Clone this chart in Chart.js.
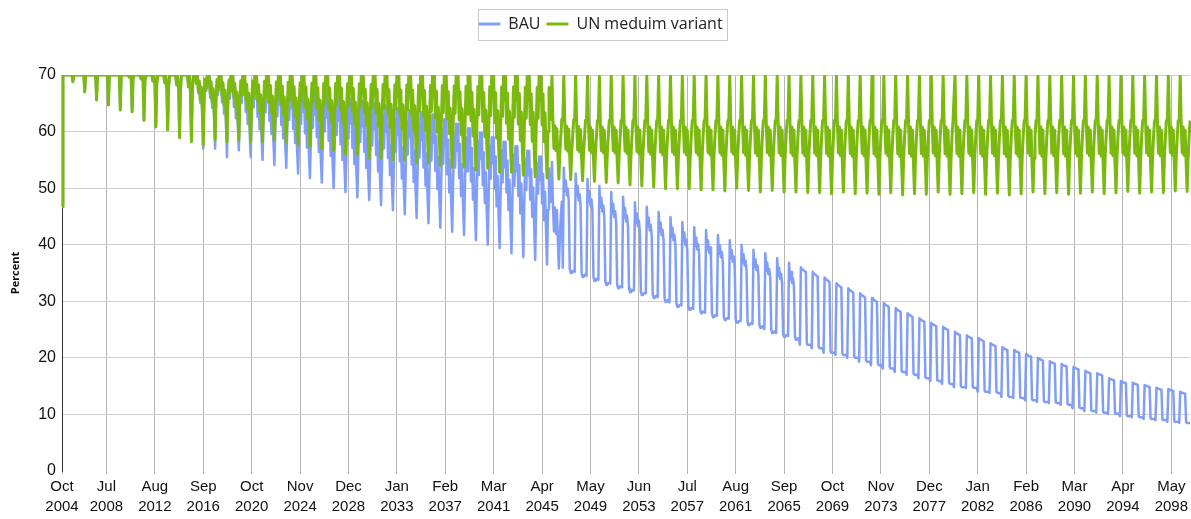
<!DOCTYPE html>
<html>
<head>
<meta charset="utf-8">
<script src="https://cdn.jsdelivr.net/npm/chart.js@4.4.1/dist/chart.umd.min.js"></script>
<style>
    html, body { margin: 0; padding: 0; background: #fff; }
    #contenedor { width: 1191px; height: 519px; }
</style>
</head>
<body>
<div id="contenedor"><canvas id="grafica-escenarios"></canvas></div>
<script>
// Serie mensual desde Oct 2004 hasta Dic 2099
const mesInicial = 9;          // octubre (0 = enero)
const anioInicial = 2004;
const totalMeses = 1143;

// Oct-Dic 2004, iguales en ambos escenarios
const inicio2004 = [46.7, 70, 70];

// Etiquetas que se muestran en el eje X
const etiquetasEje = ['Oct 2004', 'Jul 2008', 'Aug 2012', 'Sep 2016', 'Oct 2020', 'Nov 2024',
    'Dec 2028', 'Jan 2033', 'Feb 2037', 'Mar 2041', 'Apr 2045', 'May 2049', 'Jun 2053',
    'Jul 2057', 'Aug 2061', 'Sep 2065', 'Oct 2069', 'Nov 2073', 'Dec 2077', 'Jan 2082',
    'Feb 2086', 'Mar 2090', 'Apr 2094', 'May 2098'];

// Valores anuales 2005-2099 (un dato por año)
// UN medium variant: techo fijo, nivel medio de la banda y mínimo anual
const unTope = 70;
const unMedio = [
    70, 70, 70, 70, 70, 69.5, 69, 68.5, 68, 67.5,
    67, 66.5, 66, 65.5, 65, 64.6, 64.2, 63.8, 63.5, 63.2,
    62.9, 62.6, 62.4, 62.2, 62, 61.8, 61.6, 61.4, 61.2, 61,
    60.8, 60.5, 60.3, 60.1, 59.9, 59.7, 59.5, 59.3, 59.1, 59,
    58.9, 58.8, 58.7, 58.6, 58.5, 58.5, 58.5, 58.5, 58.5, 58.5,
    58.5, 58.5, 58.5, 58.5, 58.5, 58.5, 58.5, 58.5, 58.5, 58.5,
    58.5, 58.5, 58.5, 58.5, 58.5, 58.5, 58.5, 58.5, 58.5, 58.5,
    58.5, 58.5, 58.5, 58.5, 58.5, 58.5, 58.5, 58.5, 58.5, 58.5,
    58.5, 58.5, 58.5, 58.5, 58.5, 58.5, 58.5, 58.5, 58.5, 58.5,
    58.5, 58.5, 58.5, 58.5, 58.5
];
const unMinimo = [
    68.8, 67, 65.6, 64.7, 63.8, 63.5, 62, 60.8, 60.3, 58.9,
    58.2, 57.6, 58.5, 58.2, 58.5, 58.2, 58.2, 58.5, 58, 57.8,
    57.3, 57, 56.7, 56, 56, 55.3, 55.3, 55, 55, 54.4,
    54.4, 54, 53.7, 53.7, 53.2, 53.5, 52.8, 52.8, 52.3, 52,
    51.8, 51.6, 51.5, 51.3, 51.2, 51, 50.9, 50.6, 50.4, 50.2,
    49.9, 49.9, 49.9, 49.7, 49.7, 49.5, 50, 49.6, 49.3, 49.6,
    49.3, 49.3, 49.2, 49.2, 49, 49.3, 49, 49.1, 48.9, 49.2,
    48.8, 49, 48.9, 49.3, 48.9, 49, 49.2, 48.9, 49.1, 48.8,
    49, 49.3, 49, 49.2, 48.9, 49.1, 49.3, 49, 49.2, 49.4,
    49.1, 49.3, 49.2, 49.5, 49.4
];

// BAU: máximo anual, nivel medio (solo hasta 2046) y mínimo anual
const bauTope = [
    70, 70, 70, 70, 70, 70, 70, 70, 70, 70,
    70, 70, 70, 70, 70, 69.5, 69, 68.5, 68.2, 67.8,
    67.4, 67, 66.6, 66.2, 65.8, 65.4, 65, 64.6, 64.2, 63.8,
    63.4, 63, 62.2, 61.4, 60.6, 59.8, 59, 58.2, 57.4, 56.6,
    55.6, 54.6, 53.6, 52.6, 51.6, 50.4, 49.3, 48.5, 47.5, 46.7,
    45.8, 44.9, 44, 43.1, 42.6, 41.7, 40.8, 40, 39.1, 38.5,
    37.6, 36.8, 36, 35.2, 34.2, 33.2, 32.3, 31.4, 30.6, 29.7,
    28.8, 27.9, 27, 26.2, 25.5, 24.6, 24, 23.5, 22.6, 21.9,
    21.4, 20.7, 20, 19.4, 18.9, 18.4, 17.7, 17.3, 16.4, 15.9,
    15.6, 15.2, 14.7, 14.5, 14
];
const bauMedio = [
    70, 70, 70, 70, 70, 69.5, 69, 68.5, 68, 67.5,
    67, 66, 65, 64, 63, 62, 61, 60.2, 59.4, 58.6,
    57.8, 57, 56.3, 55.6, 54.9, 54.2, 53.6, 53, 52.4, 51.8,
    51.2, 50.6, 50, 49.4, 48.8, 48.2, 47.6, 47, 46.4, 45.8,
    45.2, 44.6
];
const bauMinimo = [
    68.8, 67, 65.6, 64.7, 63.8, 63.5, 62, 60.8, 60.3, 58.9,
    58.2, 57, 57, 55.5, 56.7, 55.5, 55, 54.1, 53.6, 52.6,
    51.8, 51, 50, 49.3, 48.4, 47.9, 47, 46.1, 45.4, 44.7,
    43.8, 43, 42.3, 41.7, 40.8, 40, 39.4, 38.5, 37.8, 37.3,
    36.5, 35.8, 35, 34.3, 33.6, 32.9, 32.3, 31.6, 31.1, 30.6,
    29.9, 29, 28.5, 27.9, 27.2, 26.7, 26.2, 25.8, 25.3, 24.4,
    23.7, 23.2, 22.3, 21.7, 20.9, 20.5, 20, 19.3, 18.7, 18.1,
    17.5, 17, 16.4, 15.9, 15.4, 14.8, 14.7, 14, 13.8, 13.1,
    12.9, 12.5, 12.2, 12, 11.7, 11.1, 10.6, 10.3, 10.1, 9.7,
    9.5, 9.2, 9, 8.7, 8.5
];

// Forma mensual (Ene..Dic). Con nivel medio: -1 = mínimo, 0 = medio, 1 = techo
const perfilTemprano = [1, 1, 1, 1, 1, 0.3, 1, 0, -1, 0, 1, 1];
const perfilAlterno = [1, 0.6, 1, 0.2, 0.7, -0.1, 0.4, -0.3, -1, 0.1, 0.8, 0.3];
const perfilBanda = [0.3, 1, 0.25, -0.25, 0.2, -0.3, 0.15, -0.45, -1, -0.35, 0.05, 0.3];
const anioAlterno = 2016;
const anioBanda = 2046;
// Sin nivel medio: 0 = mínimo, 1 = máximo
const perfilEscalon = [0.05, 1, 0.78, 0.88, 0.74, 0.8, 0.68, 0.04, 0, 0, 0.02, 0.02];
const perfilCuadrado = [0, 1, 0.98, 0.97, 0.96, 0.95, 0.94, 0.02, 0, 0, 0, 0];
const anioCuadrado = 2067;

document.addEventListener('DOMContentLoaded', () => {
    const meses = ['Jan', 'Feb', 'Mar', 'Apr', 'May', 'Jun', 'Jul', 'Aug', 'Sep', 'Oct', 'Nov', 'Dec'];

    const etiquetas = [];
    for (let i = 0; i < totalMeses; i++) {
        const m = mesInicial + i;
        etiquetas.push(`${meses[m % 12]} ${anioInicial + Math.floor(m / 12)}`);
    }
    const marcas = etiquetasEje.map(t => etiquetas.indexOf(t));

    const redondear = v => Math.round(v * 100) / 100;

    function enBanda(p, tope, medio, minimo) {
        return p >= 0 ? medio + p * (tope - medio) : medio + p * (medio - minimo);
    }

    function perfilDelAnio(anio) {
        if (anio < anioAlterno) return perfilTemprano;
        return anio < anioBanda ? perfilAlterno : perfilBanda;
    }

    function serieUN() {
        const datos = [...inicio2004];
        unMinimo.forEach((minimo, i) => {
            perfilDelAnio(2005 + i).forEach(p => datos.push(redondear(enBanda(p, unTope, unMedio[i], minimo))));
        });
        return datos;
    }

    function serieBAU() {
        const datos = [...inicio2004];
        bauTope.forEach((tope, i) => {
            const minimo = bauMinimo[i];
            if (i < bauMedio.length) {
                perfilDelAnio(2005 + i).forEach(p => datos.push(redondear(enBanda(p, tope, bauMedio[i], minimo))));
            } else {
                const perfil = (2005 + i) < anioCuadrado ? perfilEscalon : perfilCuadrado;
                perfil.forEach(f => datos.push(redondear(minimo + f * (tope - minimo))));
            }
        });
        return datos;
    }

    // Espacio bajo la leyenda y marco gris alrededor de ella
    const marcoLeyenda = {
        id: 'marcoLeyenda',
        beforeInit(chart) {
            const fitOriginal = chart.legend.fit;
            chart.legend.fit = function () {
                fitOriginal.bind(chart.legend)();
                this.height += 33;
            };
        },
        afterDraw(chart) {
            const cajas = chart.legend && chart.legend.legendHitBoxes;
            if (!cajas || !cajas.length) return;
            const ctx = chart.ctx;
            const izq = Math.min(...cajas.map(c => c.left));
            const der = Math.max(...cajas.map(c => c.left + c.width)) + 5;
            const centro = cajas[0].top + cajas[0].height / 2;
            ctx.save();
            ctx.strokeStyle = '#c9c9c9';
            ctx.lineWidth = 1;
            ctx.strokeRect(Math.round(izq) + 0.5, Math.round(centro - 15) + 0.5, Math.round(der - izq), 31);
            ctx.restore();
        }
    };

    const fuenteEjes = "'Liberation Sans', Arial, sans-serif";

    new Chart(document.getElementById('grafica-escenarios').getContext('2d'), {
        type: 'line',
        data: {
            labels: etiquetas,
            datasets: [{
                label: 'BAU',
                data: serieBAU(),
                borderColor: '#809ef7',
                backgroundColor: '#809ef7',
                borderWidth: 2.5,
                order: 1
            }, {
                label: 'UN meduim variant',
                data: serieUN(),
                borderColor: '#7cb90f',
                backgroundColor: '#7cb90f',
                borderWidth: 3,
                order: 0
            }]
        },
        options: {
            responsive: true,
            maintainAspectRatio: false,
            animation: false,
            events: [],
            layout: { padding: { top: 10, right: 0, left: 10, bottom: 0 } },
            elements: {
                point: { radius: 0 },
                line: { tension: 0, borderJoinStyle: 'round', fill: false }
            },
            plugins: {
                tooltip: { enabled: false },
                legend: {
                    position: 'top',
                    labels: {
                        usePointStyle: true,
                        pointStyle: 'line',
                        pointStyleWidth: 22,
                        padding: 6,
                        color: '#222',
                        font: { family: "'Open Sans', sans-serif", size: 16 },
                        sort: (a, b) => a.datasetIndex - b.datasetIndex,
                        generateLabels(chart) {
                            const base = Chart.defaults.plugins.legend.labels.generateLabels(chart);
                            base.forEach(item => { item.lineWidth = 3; });
                            return base;
                        }
                    }
                }
            },
            scales: {
                x: {
                    afterFit(scale) { scale.height = 48; },
                    afterBuildTicks(scale) {
                        scale.ticks = marcas.map(v => ({ value: v }));
                    },
                    grid: {
                        color: '#b4b4b4',
                        lineWidth: 1,
                        drawTicks: true,
                        tickLength: 3
                    },
                    border: { display: false },
                    ticks: {
                        autoSkip: false,
                        maxRotation: 0,
                        minRotation: 0,
                        padding: 3,
                        color: '#111',
                        font: { family: fuenteEjes, size: 15, lineHeight: 1.33 },
                        callback: (valor) => etiquetas[valor].split(' ')
                    }
                },
                y: {
                    min: 0,
                    max: 70,
                    afterFit(scale) { scale.width = 52; },
                    grid: {
                        color: (c) => c.tick && c.tick.value === 0 ? 'rgba(0,0,0,0)' : '#d0d0d0',
                        drawTicks: false
                    },
                    border: { display: true, color: '#333', width: 1 },
                    ticks: {
                        stepSize: 10,
                        padding: 6,
                        color: '#111',
                        font: { family: fuenteEjes, size: 16 }
                    },
                    title: {
                        display: true,
                        text: 'Percent',
                        color: '#111',
                        padding: { top: 0, bottom: 0 },
                        font: { family: "'Open Sans', sans-serif", size: 11, weight: 'bold', lineHeight: 1 }
                    }
                }
            }
        },
        plugins: [marcoLeyenda]
    });
});
</script>
</body>
</html>
